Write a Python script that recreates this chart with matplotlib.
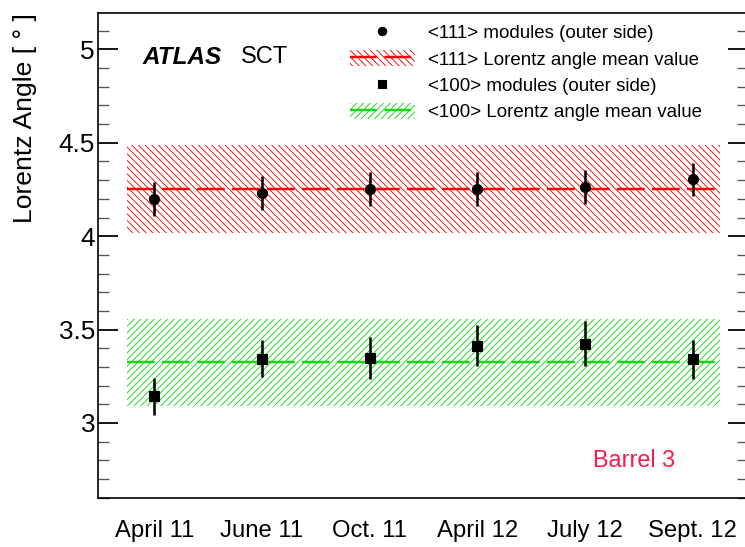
import matplotlib
matplotlib.use("Agg")
import matplotlib.pyplot as plt
from matplotlib.patches import Patch
from matplotlib.lines import Line2D
from matplotlib.legend_handler import HandlerTuple
from matplotlib.ticker import MultipleLocator, NullLocator
import numpy as np

# Lorentz angle per calibration run, SCT barrel 3
dates = ["April 11", "June 11", "Oct. 11", "April 12", "July 12", "Sept. 12"]
angle_111 = [4.20, 4.232, 4.253, 4.253, 4.264, 4.304]
err_111 = [0.09, 0.09, 0.09, 0.09, 0.09, 0.09]
angle_100 = [3.142, 3.345, 3.350, 3.413, 3.424, 3.340]
err_100 = [0.10, 0.10, 0.112, 0.11, 0.12, 0.105]

mean_111 = 4.253
spread_111 = 0.235
mean_100 = 3.325
spread_100 = 0.234

RED = "#ff0000"
GREEN = "#14d814"
BARREL = "#ff1a4a"
HATCH_111 = "\\\\\\\\"
HATCH_100 = "////"

DPI = 80
plt.rcParams["font.family"] = ["Liberation Sans", "DejaVu Sans"]
plt.rcParams["hatch.linewidth"] = 0.8
plt.rcParams["lines.scale_dashes"] = False

fig = plt.figure(figsize=(745 / DPI, 547 / DPI), dpi=DPI)
ax = fig.add_axes([98 / 745, 49.3 / 547, 650 / 745, 484.7 / 547])

x = np.arange(len(dates))
band_x = [x[0] - 0.25, x[-1] + 0.25]
dash = (0, (25, 6.5))

# <111> mean band
ax.fill_between(band_x, mean_111 - spread_111, mean_111 + spread_111,
                facecolor="none", edgecolor=RED, hatch=HATCH_111, linewidth=0, zorder=1)
ax.plot(band_x, [mean_111, mean_111], color=RED, lw=2.2, linestyle=dash, zorder=2)

# <100> mean band
ax.fill_between(band_x, mean_100 - spread_100, mean_100 + spread_100,
                facecolor="none", edgecolor=GREEN, hatch=HATCH_100, linewidth=0, zorder=1)
ax.plot(band_x, [mean_100, mean_100], color=GREEN, lw=2.2, linestyle=dash, zorder=2)

ax.errorbar(x, angle_111, yerr=err_111, fmt="o", color="black", ms=9,
            elinewidth=2.3, capsize=0, zorder=3)
ax.errorbar(x, angle_100, yerr=err_100, fmt="s", color="black", ms=8.8,
            elinewidth=2.3, capsize=0, zorder=3)

ax.set_xlim(-0.523, 5.513)
ax.set_ylim(2.6, 5.195)

ax.set_xticks(x)
ax.set_xticklabels(dates, fontsize=21.5)
ax.tick_params(axis="x", length=0, pad=20.5)
ax.xaxis.set_minor_locator(NullLocator())

ax.yaxis.set_major_locator(MultipleLocator(0.5))
ax.yaxis.set_minor_locator(MultipleLocator(0.1))
ax.set_yticks([3, 3.5, 4, 4.5, 5])
ax.set_yticklabels(["3", "3.5", "4", "4.5", "5"], fontsize=23.5)
ax.tick_params(axis="y", which="major", direction="in", length=18, width=1.6,
               left=True, right=True, pad=2.7)
ax.tick_params(axis="y", which="minor", direction="in", length=10, width=1.2,
               left=True, right=True, color="#555555")

for s in ax.spines.values():
    s.set_linewidth(1.5)

ax.set_ylabel("Lorentz Angle [ ° ]", fontsize=23.8, loc="top")
ax.yaxis.set_label_coords(-0.094, 1.0)

ax.text(0.069, 0.909, "ATLAS", transform=ax.transAxes, fontsize=21.8,
        fontweight="bold", fontstyle="italic", va="center", ha="left")
ax.text(0.220, 0.909, "SCT", transform=ax.transAxes, fontsize=21.3,
        va="center", ha="left")
ax.text(0.8246, 0.076, "Barrel 3", transform=ax.transAxes, fontsize=21,
        color=BARREL, va="center", ha="center")

h_111 = Line2D([], [], marker="o", color="black", ls="none", ms=7.5)
h_100 = Line2D([], [], marker="s", color="black", ls="none", ms=7)
band_111 = (Patch(facecolor="none", edgecolor=RED, hatch=HATCH_111, linewidth=0),
            Line2D([], [], color=RED, lw=2.2, linestyle=(0, (24, 7))))
band_100 = (Patch(facecolor="none", edgecolor=GREEN, hatch=HATCH_100, linewidth=0),
            Line2D([], [], color=GREEN, lw=2.2, linestyle=(0, (24, 7))))

leg = ax.legend([h_111, band_111, h_100, band_100],
                ["<111> modules (outer side)", "<111> Lorentz angle mean value",
                 "<100> modules (outer side)", "<100> Lorentz angle mean value"],
                handler_map={tuple: HandlerTuple(ndivide=1, pad=0)},
                loc="upper left", bbox_to_anchor=((350 - 98) / 650, 1 - 11 / 484.7),
                frameon=False, fontsize=16.9, borderpad=0, borderaxespad=0,
                handlelength=3.46, handleheight=0.9, handletextpad=0.7,
                labelspacing=0.43)

fig.savefig("out.png", dpi=DPI)
